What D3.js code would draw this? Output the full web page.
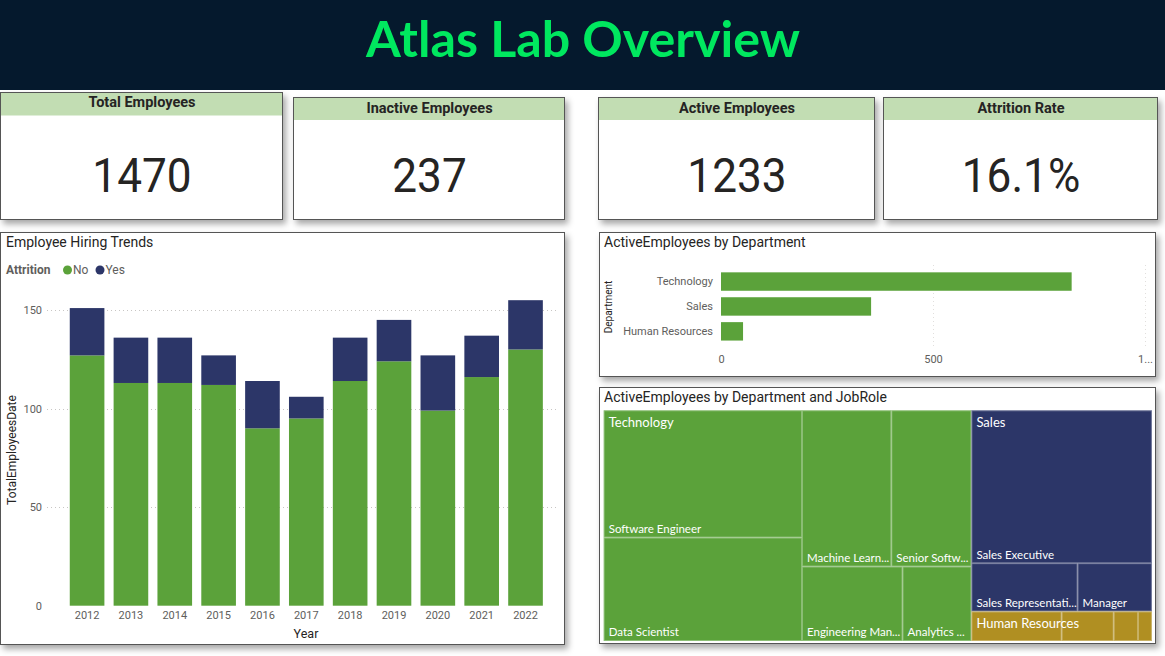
<!DOCTYPE html>
<html>
<head>
<meta charset="utf-8">
<script src="https://cdn.jsdelivr.net/npm/d3@7"></script>
<style>
  html, body { margin: 0; padding: 0; background: #ffffff; }
  svg { display: block; }
</style>
</head>
<body>
<svg id="chart" width="1165" height="656"></svg>
<script>
// ---------------- DATA ----------------
const pageTitle = "Atlas Lab Overview";

const kpiLabels = ["Total Employees", "Inactive Employees", "Active Employees", "Attrition Rate"];
const kpiValues = ["1470", "237", "1233", "16.1%"];

const years = ["2012", "2013", "2014", "2015", "2016", "2017", "2018", "2019", "2020", "2021", "2022"];
const attritionNo  = [127, 113, 113, 112, 90, 95, 114, 124, 99, 116, 130];
const attritionYes = [24, 23, 23, 15, 24, 11, 22, 21, 28, 21, 25];
const attritionKeys = ["No", "Yes"];
const hiringYTicks = [0, 50, 100, 150];

const departments = ["Technology", "Sales", "Human Resources"];
const deptActive = [827, 354, 52];
const deptXTicks = [0, 500, 1000];

const techRoles  = ["Software Engineer", "Data Scientist", "Machine Learning Engineer", "Senior Software Engineer", "Engineering Manager", "Analytics Manager"];
const techValues = [246, 200, 136, 122, 73, 50];
const salesRoles  = ["Sales Executive", "Sales Representative", "Manager"];
const salesValues = [269, 50, 35];
const hrRoles  = ["HR Executive", "HR Business Partner", "Recruiter", "HR Manager"];
const hrValues = [26, 15, 7, 4];

// ---------------- STYLE ----------------
const GREEN = "#5ba23a", NAVY = "#2c3668", GOLD = "#b08f22";
const TXT = "#252423", SUB = "#605e5c";
const FONT = "Roboto, 'DejaVu Sans', sans-serif";
const LFONT = "Lato, 'Open Sans', sans-serif";

const svg = d3.select("#chart");
svg.append("rect").attr("width", 1165).attr("height", 656).attr("fill", "#ffffff");

const defs = svg.append("defs");
const f = defs.append("filter").attr("id", "shadow").attr("x", "-5%").attr("y", "-5%").attr("width", "115%").attr("height", "120%");
f.append("feDropShadow").attr("dx", 3).attr("dy", 4).attr("stdDeviation", 3).attr("flood-color", "#000").attr("flood-opacity", 0.35);

// ---------------- HEADER ----------------
svg.append("rect").attr("x", 0).attr("y", 0).attr("width", 1165).attr("height", 90).attr("fill", "#05192d");
const ttl = svg.append("text").attr("x", 583).attr("y", 57).attr("text-anchor", "middle")
  .attr("font-family", "Lato, 'Open Sans', sans-serif").attr("font-weight", 700).attr("font-size", 46)
  .attr("fill", "#00e85f").text(pageTitle);
{ const w = ttl.node().getComputedTextLength(); ttl.attr("font-size", 46 * 434 / w); }

// ---------------- KPI CARDS ----------------
const cards = [
  {x0: 0, y0: 92, x1: 282, y1: 219, band: 115.5, tb: 106.5},
  {x0: 293, y0: 97, x1: 564, y1: 219, band: 120, tb: 112.5},
  {x0: 598, y0: 97, x1: 874, y1: 219, band: 120, tb: 112.5},
  {x0: 883, y0: 97, x1: 1157, y1: 219, band: 120, tb: 112.5}
];
cards.forEach((c, i) => {
  const g = svg.append("g");
  g.append("rect").attr("x", c.x0 + 0.5).attr("y", c.y0 + 0.5).attr("width", c.x1 - c.x0).attr("height", c.y1 - c.y0)
    .attr("fill", "#fff").attr("stroke", "#555").attr("stroke-width", 1).attr("filter", "url(#shadow)");
  g.append("rect").attr("x", c.x0 + 1).attr("y", c.y0 + 1).attr("width", c.x1 - c.x0 - 1).attr("height", c.band - c.y0 - 1)
    .attr("fill", "#c2ddb3");
  g.append("text").attr("x", (c.x0 + c.x1) / 2 + 1).attr("y", c.tb).attr("text-anchor", "middle")
    .attr("font-family", FONT).attr("font-weight", 700).attr("font-size", 14.5).attr("fill", TXT).text(kpiLabels[i]);
  g.append("text").attr("transform", `translate(${(c.x0 + c.x1) / 2 + 1},191.5) scale(0.92,1)`).attr("text-anchor", "middle")
    .attr("font-family", FONT).attr("font-size", 48).attr("fill", TXT).text(kpiValues[i]);
});

// ---------------- PANELS ----------------
function panel(x0, y0, x1, y1) {
  svg.append("rect").attr("x", x0 + 0.5).attr("y", y0 + 0.5).attr("width", x1 - x0).attr("height", y1 - y0)
    .attr("fill", "#fff").attr("stroke", "#555").attr("stroke-width", 1).attr("filter", "url(#shadow)");
}
panel(0, 232, 564, 644);
panel(599, 232, 1155, 376);
panel(599, 387, 1155, 643);

function title(x, y, t) {
  svg.append("text").attr("x", x).attr("y", y).attr("font-family", FONT).attr("font-size", 14).attr("fill", TXT).text(t);
}

// ---------------- HIRING TRENDS ----------------
title(6, 247, "Employee Hiring Trends");
{
  const lg = svg.append("g").attr("font-family", FONT).attr("font-size", 12);
  lg.append("text").attr("x", 6).attr("y", 274).attr("font-weight", 700).attr("fill", SUB).text("Attrition");
  lg.append("circle").attr("cx", 67.5).attr("cy", 270).attr("r", 4.5).attr("fill", GREEN);
  lg.append("text").attr("x", 73).attr("y", 274).attr("fill", SUB).text(attritionKeys[0]);
  lg.append("circle").attr("cx", 100).attr("cy", 270).attr("r", 4.5).attr("fill", NAVY);
  lg.append("text").attr("x", 105.5).attr("y", 274).attr("fill", SUB).text(attritionKeys[1]);
}
const table = years.map((y, i) => ({year: y, No: attritionNo[i], Yes: attritionYes[i]}));
const x = d3.scaleBand().domain(years).range([58.8, 553.8]).paddingInner(0.21).paddingOuter(0.25);
const y = d3.scaleLinear().domain([0, 160]).range([605.7, 605.7 - 160 * 1.971]);

const gy = svg.append("g").attr("transform", "translate(47,0)")
  .call(d3.axisLeft(y).tickValues(hiringYTicks).tickSize(0).tickPadding(5));
gy.select(".domain").remove();
gy.selectAll("text").attr("font-family", FONT).attr("font-size", 11).attr("fill", SUB);
svg.append("g").selectAll("line").data(hiringYTicks.filter(d => d > 0)).join("line")
  .attr("x1", 47).attr("x2", 558).attr("y1", d => Math.round(y(d)) + 0.5).attr("y2", d => Math.round(y(d)) + 0.5)
  .attr("stroke", "#c8c6c4").attr("stroke-dasharray", "1,3");

const stack = d3.stack().keys(attritionKeys)(table);
svg.append("g").selectAll("g").data(stack).join("g")
  .attr("fill", d => d.key === "No" ? GREEN : NAVY)
  .selectAll("rect").data(d => d).join("rect")
  .attr("x", d => x(d.data.year)).attr("width", x.bandwidth())
  .attr("y", d => y(d[1])).attr("height", d => y(d[0]) - y(d[1]));

const gx = svg.append("g").attr("transform", "translate(0,605.7)")
  .call(d3.axisBottom(x).tickSize(0).tickPadding(6));
gx.select(".domain").remove();
gx.selectAll("text").attr("font-family", FONT).attr("font-size", 11).attr("fill", SUB);
svg.append("text").attr("x", 306).attr("y", 638).attr("text-anchor", "middle")
  .attr("font-family", FONT).attr("font-size", 12.5).attr("fill", TXT).text("Year");
svg.append("text").attr("transform", "translate(16,450) rotate(-90)").attr("text-anchor", "middle")
  .attr("font-family", FONT).attr("font-size", 12).attr("fill", TXT).text("TotalEmployeesDate");

// ---------------- DEPARTMENT BAR ----------------
title(604, 247, "ActiveEmployees by Department");
const dx = d3.scaleLinear().domain([0, 1000]).range([721, 1145]);
const dy = d3.scaleBand().domain(departments).range([269.1, 343.8]).paddingInner(0.26).paddingOuter(0.13);
svg.append("g").selectAll("line").data(deptXTicks.filter(d => d > 0)).join("line")
  .attr("x1", d => Math.round(dx(d)) + 0.5).attr("x2", d => Math.round(dx(d)) + 0.5).attr("y1", 265).attr("y2", 348)
  .attr("stroke", "#e1dfdd").attr("stroke-dasharray", "1,3");
svg.append("g").selectAll("rect").data(departments).join("rect")
  .attr("x", dx(0)).attr("y", d => dy(d)).attr("height", dy.bandwidth())
  .attr("width", (d, i) => dx(deptActive[i]) - dx(0)).attr("fill", GREEN);
const gdy = svg.append("g").attr("transform", "translate(721,0)")
  .call(d3.axisLeft(dy).tickSize(0).tickPadding(8));
gdy.select(".domain").remove();
gdy.selectAll("text").attr("font-family", FONT).attr("font-size", 11).attr("fill", SUB);
const gdx = svg.append("g").attr("transform", "translate(0,355)")
  .call(d3.axisBottom(dx).tickValues(deptXTicks).tickSize(0).tickPadding(0)
    .tickFormat(d => d >= 1000 ? String(d).slice(0, 1) + "..." : d3.format("d")(d)));
gdx.select(".domain").remove();
gdx.selectAll("text").attr("font-family", FONT).attr("font-size", 11).attr("fill", SUB);
svg.append("text").attr("transform", "translate(612,307) rotate(-90)").attr("text-anchor", "middle")
  .attr("font-family", FONT).attr("font-size", 10).attr("fill", TXT).text("Department");

// ---------------- TREEMAP ----------------
title(604, 402, "ActiveEmployees by Department and JobRole");
const deptColor = {"Technology": GREEN, "Sales": NAVY, "Human Resources": GOLD};
const treeData = {name: "root", children: [
  {name: departments[0], children: techRoles.map((r, i) => ({name: r, value: techValues[i]}))},
  {name: departments[1], children: salesRoles.map((r, i) => ({name: r, value: salesValues[i]}))},
  {name: departments[2], children: hrRoles.map((r, i) => ({name: r, value: hrValues[i]}))}
]};
const TX = 603.7, TY = 410.3;
const root = d3.hierarchy(treeData).sum(d => d.value || 0).sort((a, b) => b.value - a.value);
d3.treemap().tile(d3.treemapSquarify.ratio(1)).size([548.2, 230.7]).round(false)(root);
const tg = svg.append("g").attr("transform", `translate(${TX},${TY})`);
const leaves = root.leaves();
tg.selectAll("rect.leaf").data(leaves).join("rect").attr("class", "leaf")
  .attr("x", d => d.x0).attr("y", d => d.y0).attr("width", d => d.x1 - d.x0).attr("height", d => d.y1 - d.y0)
  .attr("fill", d => deptColor[d.parent.data.name]);
// leaf labels
leaves.forEach(d => {
  const w = d.x1 - d.x0, h = d.y1 - d.y0;
  if (h < 40) return;
  const t = tg.append("text").attr("x", d.x0 + 5).attr("y", d.y1 - 4.5)
    .attr("font-family", LFONT).attr("font-size", 11.5).attr("fill", "#fff").text(d.data.name);
  let s = d.data.name;
  if (t.node().getComputedTextLength() > w - 5) {
    while (s.length > 1) {
      s = s.slice(0, -1);
      t.text(s + "...");
      if (t.node().getComputedTextLength() <= w - 5) break;
    }
  }
});
// group labels
root.children.forEach(g => {
  tg.append("text").attr("x", g.x0 + 5).attr("y", g.y0 + 16.5)
    .attr("font-family", LFONT).attr("font-size", 13).attr("fill", "#fff").text(g.data.name);
});
// tile separators
tg.selectAll("rect.sep").data(leaves).join("rect").attr("class", "sep")
  .attr("x", d => d.x0 + 0.5).attr("y", d => d.y0 + 0.5).attr("width", d => Math.max(0, d.x1 - d.x0 - 1)).attr("height", d => Math.max(0, d.y1 - d.y0 - 1))
  .attr("fill", "none").attr("stroke", "#ffffff").attr("stroke-opacity", 0.3).attr("stroke-width", 1);
</script>
</body>
</html>
